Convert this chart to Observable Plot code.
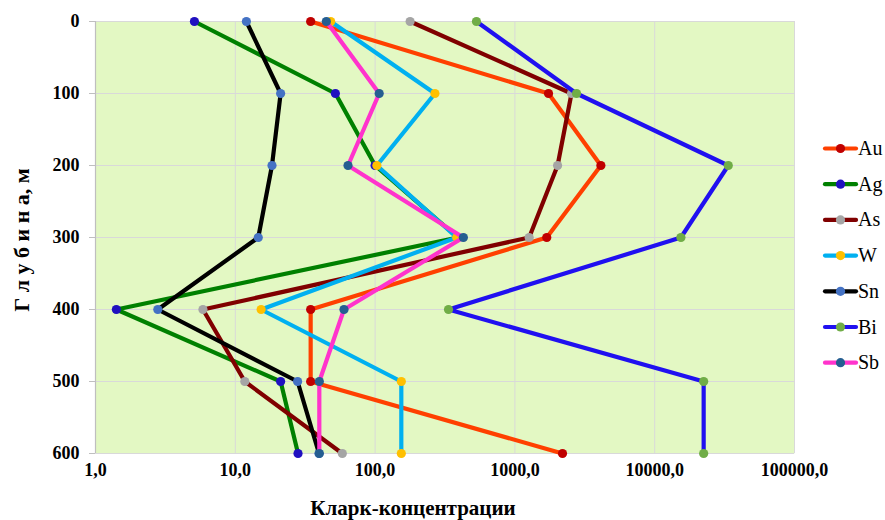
<!DOCTYPE html>
<html>
<head>
<meta charset="utf-8">
<script src="https://cdn.jsdelivr.net/npm/d3@7"></script>
<script src="https://cdn.jsdelivr.net/npm/@observablehq/plot@0.6"></script>
<style>
  html, body { margin: 0; padding: 0; background: #ffffff; }
  #chart { width: 885px; height: 520px; position: relative; }
</style>
</head>
<body>
<div id="chart"></div>
<script>
// Depths (m)
const depths = [0, 100, 200, 300, 400, 500, 600];
// Clarke concentrations per element, by depth
const Au = [34.6, 1740, 4120, 1690, 34.6, 34.6, 2190];
const Ag = [5.1, 52, 100, 390, 1.41, 21.1, 28.1];
const As = [178, 2540, 2020, 1265, 5.87, 11.7, 58.3];
const W  = [48.1, 268, 103, 384, 15.3, 154, 154];
const Sn = [12.0, 21.1, 18.3, 14.6, 2.79, 27.9, 39.7];
const Bi = [531, 2760, 33600, 15400, 335, 22400, 22400];
const Sb = [44.8, 107, 64, 428, 59.9, 39.9, 39.9];

const seriesNames = ["Au", "Ag", "As", "W", "Sn", "Bi", "Sb"];
const seriesValues = [Au, Ag, As, W, Sn, Bi, Sb];
const lineColors = ["#FF4000", "#008000", "#800000", "#00B0F0", "#000000", "#2010F0", "#FF33CC"];
const markerColors = ["#C00000", "#2010C0", "#A5A5A5", "#FFC000", "#4472C4", "#70AD47", "#255E91"];

const xTicks = [1, 10, 100, 1000, 10000, 100000];
const xTickLabels = ["1,0", "10,0", "100,0", "1000,0", "10000,0", "100000,0"];
const yTicks = [0, 100, 200, 300, 400, 500, 600];

const SERIF = "Liberation Serif, Times New Roman, Times, serif";

const rows = [];
seriesNames.forEach((name, i) => {
  depths.forEach((d, j) => rows.push({el: name, depth: d, val: seriesValues[i][j]}));
});

const marks = [
  Plot.frame({fill: "#E3F8C3", stroke: "none"}),
  Plot.ruleX(xTicks, {stroke: "#D9D9D9", strokeWidth: 1}),
  Plot.ruleY(yTicks, {stroke: "#D9D9D9", strokeWidth: 1}),
  Plot.ruleX([1], {stroke: "#BFBFBF", strokeWidth: 1.2}),
  // x tick labels
  Plot.text(xTicks, {x: d => d, y: 600, text: (d, i) => xTickLabels[i], dy: 17, fill: "#000",
    fontFamily: SERIF, fontSize: 18, fontWeight: "bold", textAnchor: "middle"}),
  // y tick labels
  Plot.text(yTicks, {x: 1, y: d => d, text: d => String(d), dx: -16, fill: "#000",
    fontFamily: SERIF, fontSize: 18, fontWeight: "bold", textAnchor: "end"})
];
seriesNames.forEach((name, i) => {
  const data = rows.filter(r => r.el === name);
  marks.push(Plot.line(data, {x: "val", y: "depth", stroke: lineColors[i], strokeWidth: 4.2, strokeLinejoin: "round", strokeLinecap: "round"}));
  marks.push(Plot.dot(data, {x: "val", y: "depth", r: 4.6, fill: markerColors[i], stroke: "none"}));
});

const plot = Plot.plot({
  width: 885,
  height: 520,
  marginLeft: 95,
  marginRight: 91,
  marginTop: 21,
  marginBottom: 67,
  style: {fontFamily: SERIF, fontSize: "18px", background: "#ffffff", color: "#BFBFBF"},
  x: {type: "log", domain: [1, 100000], axis: null},
  y: {domain: [0, 600], reverse: true, ticks: yTicks, tickSize: 6, tickPadding: 10, tickFormat: () => "", label: null},
  marks
});

document.getElementById("chart").appendChild(plot);

const svg = d3.select(plot);
svg.attr("overflow", "visible");

// axis titles
svg.append("text")
  .attr("x", 413)
  .attr("y", 515)
  .attr("text-anchor", "middle")
  .style("font-family", SERIF)
  .style("font-weight", "bold")
  .style("font-size", "21px")
  .attr("fill", "#000")
  .text("Кларк-концентрации");

svg.append("text")
  .attr("transform", "translate(29,240) rotate(-90)")
  .attr("text-anchor", "middle")
  .style("font-family", SERIF)
  .style("font-weight", "bold")
  .style("font-size", "22px")
  .attr("fill", "#000")
  .text("Г л у б и н а, м");

// legend
const lg = svg.append("g").attr("class", "legend");
seriesNames.forEach((name, i) => {
  const y = 148.5 + i * 35.7;
  lg.append("line").attr("x1", 825).attr("x2", 856).attr("y1", y).attr("y2", y)
    .attr("stroke", lineColors[i]).attr("stroke-width", 4.2).attr("stroke-linecap", "round");
  lg.append("circle").attr("cx", 840.5).attr("cy", y).attr("r", 4.6).attr("fill", markerColors[i]);
  lg.append("text").attr("x", 858).attr("y", y + 6.5)
    .attr("text-anchor", "start")
    .style("font-family", SERIF)
    .style("font-weight", "normal")
    .style("font-size", "20px")
    .attr("fill", "#000")
    .text(name);
});
</script>
</body>
</html>
